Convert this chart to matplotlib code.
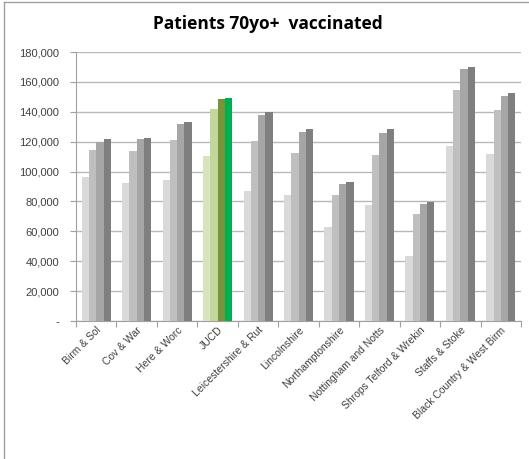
import numpy as np
import matplotlib
matplotlib.use("Agg")
import matplotlib.pyplot as plt
from matplotlib.ticker import FuncFormatter
from matplotlib.lines import Line2D

# 数据
categories = ["Birm & Sol", "Cov & War", "Here & Worc", "JUCD", "Leicestershire & Rut",
              "Lincolnshire", "Northamptonshire", "Nottingham and Notts",
              "Shrops Telford & Wrekin", "Staffs & Stoke", "Black Country & West Birm"]
series_1 = [96100, 92500, 94300, 110300, 87200, 84500, 63200, 77400, 43800, 117200, 111500]
series_2 = [114400, 113900, 121000, 141900, 120200, 112500, 84500, 110800, 71400, 154900, 140900]
series_3 = [119900, 121500, 131700, 148400, 137900, 126800, 91500, 125500, 78300, 168400, 150600]
series_4 = [121500, 122600, 133200, 149500, 139900, 128600, 93200, 128600, 79800, 170200, 152600]

grey_colors = ["#d9d9d9", "#bfbfbf", "#a6a6a6", "#7f7f7f"]
green_colors = ["#d7e4bd", "#c3d69b", "#77933c", "#00b050"]
highlight = "JUCD"

plt.rcParams['font.family'] = ['Liberation Sans', 'DejaVu Sans']

fig = plt.figure(figsize=(5.29, 4.59), dpi=100)
ax = fig.add_axes([0.1437, 0.3007, 0.8413, 0.586])

x = np.arange(len(categories))
width = 0.18
all_series = [series_1, series_2, series_3, series_4]
for k, vals in enumerate(all_series):
    cols = [green_colors[k] if c == highlight else grey_colors[k] for c in categories]
    ax.bar(x + (k - 1.5) * width, vals, width, color=cols, zorder=3)

ax.set_xlim(-0.5, len(categories) - 0.5)
ax.set_ylim(0, 180000)
ax.set_yticks(np.arange(0, 180001, 20000))
ax.yaxis.set_major_formatter(FuncFormatter(lambda v, p: "-" if v == 0 else f"{int(v):,}"))
ax.grid(axis="y", color="#b8b8b8", linewidth=1, zorder=0)

# 分类刻度在组之间
ax.set_xticks(np.arange(-0.5, len(categories), 1))
ax.set_xticklabels([])
ax.set_xticks(x, minor=True)
ax.set_xticklabels(categories, minor=True, rotation=45, ha="right", rotation_mode="anchor",
                   fontsize=7.5, color="#404040")
ax.tick_params(axis="x", which="minor", length=0, pad=3)
ax.tick_params(axis="x", which="major", length=4, color="#a0a0a0")
ax.tick_params(axis="y", length=4, color="#a0a0a0", labelsize=8, labelcolor="#404040", pad=8)

for side in ["top", "right"]:
    ax.spines[side].set_visible(False)
for side in ["left", "bottom"]:
    ax.spines[side].set_color("#a0a0a0")

fig.text(0.507, 0.948, "Patients 70yo+  vaccinated", ha="center", va="center",
         fontsize=12.5, fontweight="bold", family=["Open Sans", "DejaVu Sans"])

# 外框
fig.add_artist(Line2D([0.008, 0.008], [0, 0.996], transform=fig.transFigure, color="#a0a0a0", linewidth=1))
fig.add_artist(Line2D([0.008, 1], [0.996, 0.996], transform=fig.transFigure, color="#a0a0a0", linewidth=1))

fig.savefig("out.png", dpi=100)
